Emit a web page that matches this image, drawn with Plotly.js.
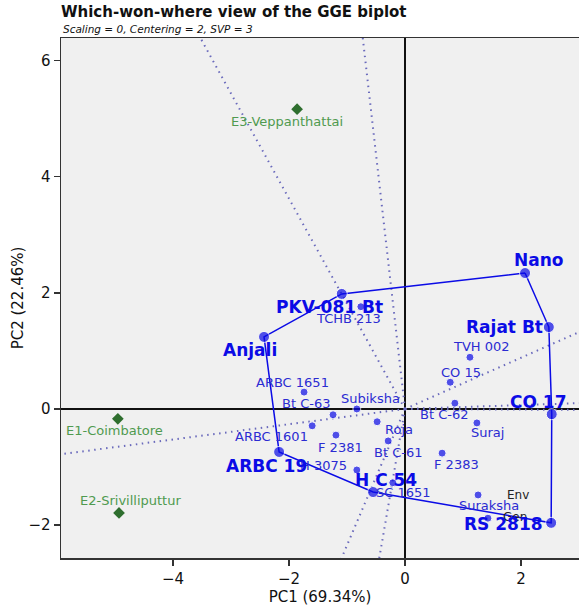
<!DOCTYPE html>
<html>
<head>
<meta charset="utf-8">
<script src="https://cdn.plot.ly/plotly-3.0.1.min.js"></script>
<style>html,body{margin:0;padding:0;background:#fff}#chart{width:579px;height:609px}</style>
</head>
<body>
<div id="chart"></div>
<script>
// ---- data ----
const genotypes = ['Nano','Rajat Bt','CO 17','RS 2818','H C 54','ARBC 19','Anjali','PKV-081 Bt',
  'TCHB 213','TVH 002','CO 15','Bt C-62','Suraj','F 2383','Suraksha','',
  'ARBC 1651','Bt C-63','Subiksha','ARBC 1601','F 2381','Roja','Bt C-61','H 3075','SC 1651'];
const genoPC1 = [2.07, 2.48, 2.53, 2.52, -0.55, -2.17, -2.43, -1.09,
  -0.76, 1.12, 0.78, 0.86, 1.24, 0.64, 1.26, 1.43,
  -1.74, -1.24, -0.83, -1.60, -1.19, -0.48, -0.29, -0.83, -0.21];
const genoPC2 = [2.34, 1.41, -0.09, -1.96, -1.43, -0.74, 1.24, 1.98,
  1.76, 0.89, 0.46, 0.10, -0.24, -0.76, -1.48, -1.88,
  0.29, -0.10, 0.00, -0.29, -0.45, -0.22, -0.55, -1.05, -1.27];
const hullOrder = ['Nano','Rajat Bt','CO 17','RS 2818','H C 54','ARBC 19','Anjali','PKV-081 Bt'];
const environments = ['E1-Coimbatore','E2-Srivilliputtur','E3-Veppanthattai'];
const envPC1 = [-4.95, -4.93, -1.86];
const envPC2 = [-0.17, -1.79, 5.16];
const xTicks = [-4, -2, 0, 2];
const yTicks = [-2, 0, 2, 4, 6];

// ---- label offsets (pixels), styling only ----
const shift = {
  'Nano':[13,13],'Rajat Bt':[-44,0],'CO 17':[-13,12],'RS 2818':[-48,-1],'H C 54':[13,12],
  'ARBC 19':[-13,-14],'Anjali':[-14,-13],'PKV-081 Bt':[-12,-13],
  'TCHB 213':[-12,-12],'TVH 002':[12,11],'CO 15':[11,10],'Bt C-62':[-11,-11],'Suraj':[11,-10],
  'F 2383':[14,-11],'Suraksha':[11,-11],'ARBC 1651':[-12,10],'Bt C-63':[-27,11],'Subiksha':[14,10],
  'ARBC 1601':[-41,-11],'F 2381':[5,-12],'Roja':[22,-8],'Bt C-61':[10,-12],'H 3075':[-33,4],'SC 1651':[11,-10],
  'E1-Coimbatore':[-3,-12],'E2-Srivilliputtur':[11,12],'E3-Veppanthattai':[-10,-12]
};

const BLUE = '#0b0be6';
const BLUE_TXT = '#2b2bd2';
const FONT = 'DejaVu Sans, Verdana, sans-serif';

const isHull = genotypes.map(g => hullOrder.includes(g));
const idx = g => genotypes.indexOf(g);
const hx = hullOrder.map(g => genoPC1[idx(g)]);
const hy = hullOrder.map(g => genoPC2[idx(g)]);

const traces = [];
// rays perpendicular to hull edges
const n = hullOrder.length;
for (let i = 0; i < n; i++) {
  const ax = hx[i], ay = hy[i], bx = hx[(i+1)%n], by = hy[(i+1)%n];
  let nx = by - ay, ny = -(bx - ax);
  if (nx*ax + ny*ay < 0) { nx = -nx; ny = -ny; }
  const L = Math.hypot(nx, ny);
  traces.push({x:[0, nx/L*20], y:[0, ny/L*20], mode:'lines', type:'scatter',
    line:{color:'#6a6abc', width:2, dash:'1.5px,4.5px'}, hoverinfo:'skip', showlegend:false});
}
// hull polygon
traces.push({x: hx.concat([hx[0]]), y: hy.concat([hy[0]]), mode:'lines', type:'scatter',
  line:{color:BLUE, width:1.5}, hoverinfo:'skip', showlegend:false});
// genotype points
traces.push({x: genoPC1, y: genoPC2, mode:'markers', type:'scatter', text: genotypes,
  marker:{color:BLUE, size: isHull.map(h => h ? 11 : 8)}, showlegend:false});
// environments
traces.push({x: envPC1, y: envPC2, mode:'markers', type:'scatter', text: environments,
  marker:{color:'#2e6e2e', size:9, symbol:'diamond'}, showlegend:false});

const annotations = [];
environments.forEach((e, i) => annotations.push({x: envPC1[i], y: envPC2[i], text: e, showarrow:false,
  xshift: shift[e][0], yshift: shift[e][1], font:{family:FONT, size:13, color:'#4f9a4f'}}));
genotypes.forEach((g, i) => { if (g && !isHull[i]) annotations.push({x: genoPC1[i], y: genoPC2[i], text: g,
  showarrow:false, xshift: shift[g][0], yshift: shift[g][1], font:{family:FONT, size:13, color:BLUE_TXT}}); });
annotations.push({x:1.95, y:-1.48, text:'Env', showarrow:false, font:{family:FONT, size:12, color:'#222'}});
annotations.push({x:1.90, y:-1.86, text:'Gen', showarrow:false, font:{family:FONT, size:12, color:'#222'}});
hullOrder.forEach((g, i) => annotations.push({x: hx[i], y: hy[i], text: g, showarrow:false,
  xshift: shift[g][0], yshift: shift[g][1], font:{family:FONT, size:17, color:BLUE, weight:'bold'}}));
annotations.push({xref:'paper', yref:'paper', x:0, y:1, xanchor:'left', yanchor:'bottom', yshift:1,
  text:'<i>Scaling = 0, Centering = 2, SVP = 3</i>', showarrow:false, font:{family:FONT, size:10.5, color:'#111'}});

const axisCommon = {showgrid:false, zeroline:true, zerolinecolor:'#111', zerolinewidth:1.5,
  showline:true, mirror:true, linecolor:'#333', linewidth:1.5,
  ticks:'outside', ticklen:6, tickwidth:1.5, tickcolor:'#333',
  tickfont:{family:FONT, size:15, color:'#111'}};

const layout = {
  width:579, height:609,
  margin:{l:61, r:0, t:38, b:51},
  paper_bgcolor:'#ffffff', plot_bgcolor:'#f0f0f0',
  title:{text:'<b>Which-won-where view of the GGE biplot</b>', x:61/579, xanchor:'left', xref:'container',
    y:1-12/609, yanchor:'middle', yref:'container', font:{family:FONT, size:15, color:'#111'}},
  xaxis: Object.assign({}, axisCommon, {range:[-5.93, 3.0], tickvals:xTicks,
    title:{text:'PC1 (69.34%)', font:{family:FONT, size:15, color:'#111'}, standoff:5}}),
  yaxis: Object.assign({}, axisCommon, {range:[-2.565, 6.385], tickvals:yTicks,
    title:{text:'PC2 (22.46%)', font:{family:FONT, size:15, color:'#111'}, standoff:1}}),
  annotations: annotations,
  showlegend:false
};

Plotly.newPlot('chart', traces, layout, {displayModeBar:false, staticPlot:true});
</script>
</body>
</html>
